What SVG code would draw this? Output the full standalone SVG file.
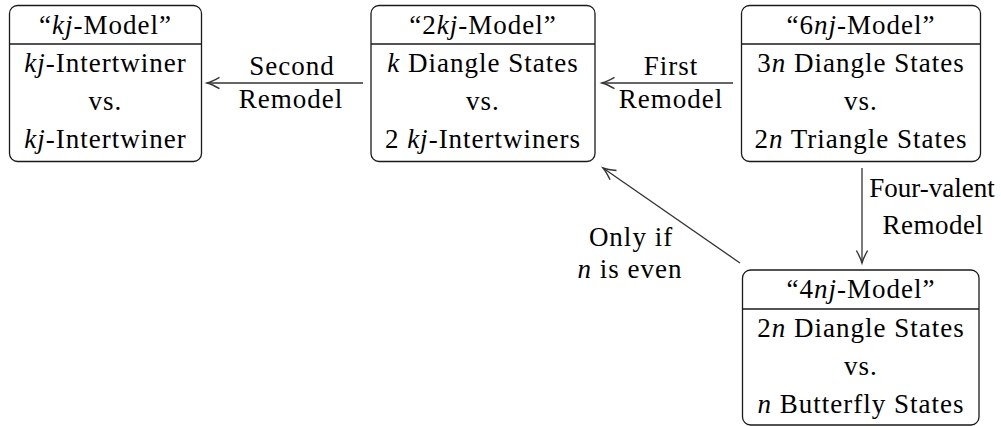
<svg xmlns="http://www.w3.org/2000/svg" width="1001" height="426" viewBox="0 0 1001 426">
<style>
text{font-family:'Liberation Serif',serif;font-size:27px;fill:#000;letter-spacing:1px;text-anchor:middle}
.i{font-style:italic}
.box{fill:#fff;stroke:#1a1a1a;stroke-width:1.3}
.div{stroke:#1a1a1a;stroke-width:1.3}
.edge{stroke:#333;stroke-width:1.3;fill:none;marker-end:url(#ah)}
</style>
<defs>
<marker id="ah" markerUnits="userSpaceOnUse" markerWidth="20" markerHeight="20" refX="0" refY="0" viewBox="-12 -8 14 16" orient="auto">
<path d="M-10,-4.5 Q-4,-1.1 0,0 Q-4,1.1 -10,4.5" fill="none" stroke="#333" stroke-width="1.1"/>
</marker>
</defs>
<g id="connectors">
<line class="edge" x1="363" y1="83" x2="207" y2="83"/>
<line class="edge" x1="733" y1="83" x2="602" y2="83"/>
<line class="edge" x1="862" y1="168" x2="862" y2="263"/>
<line class="edge" x1="740" y1="263" x2="603" y2="168"/>
<text x="292" y="75">Second</text>
<text x="291" y="108">Remodel</text>
<text x="671" y="75">First</text>
<text x="671" y="108">Remodel</text>
<text x="932" y="197" style="letter-spacing:0">Four-valent</text>
<text x="933" y="234" style="letter-spacing:0.5px">Remodel</text>
<text x="631" y="246">Only if</text>
<text x="630" y="278"><tspan class="i">n</tspan> is even</text>
</g>
<g id="kj-model">
<rect class="box" x="9.5" y="5.5" width="192" height="156" rx="8"/>
<line class="div" x1="9.5" y1="44" x2="201.5" y2="44"/>
<text x="105.5" y="34">“<tspan class="i">kj</tspan>-Model”</text>
<text x="105.5" y="72"><tspan class="i">kj</tspan>-Intertwiner</text>
<text x="105.5" y="110">vs.</text>
<text x="105.5" y="148"><tspan class="i">kj</tspan>-Intertwiner</text>
</g>
<g id="2kj-model">
<rect class="box" x="371" y="5.5" width="224" height="156" rx="8"/>
<line class="div" x1="371" y1="44" x2="595" y2="44"/>
<text x="483" y="34">“2<tspan class="i">kj</tspan>-Model”</text>
<text x="483" y="72"><tspan class="i">k</tspan> Diangle States</text>
<text x="483" y="110">vs.</text>
<text x="483" y="148">2 <tspan class="i">kj</tspan>-Intertwiners</text>
</g>
<g id="6nj-model">
<rect class="box" x="741.5" y="5.5" width="239" height="156" rx="8"/>
<line class="div" x1="741.5" y1="44" x2="980.5" y2="44"/>
<text x="861" y="34">“6<tspan class="i">nj</tspan>-Model”</text>
<text x="861" y="72">3<tspan class="i">n</tspan> Diangle States</text>
<text x="861" y="110">vs.</text>
<text x="861" y="148">2<tspan class="i">n</tspan> Triangle States</text>
</g>
<g id="4nj-model">
<rect class="box" x="742.5" y="270" width="236.5" height="155" rx="8"/>
<line class="div" x1="742.5" y1="309" x2="979" y2="309"/>
<text x="861" y="298">“4<tspan class="i">nj</tspan>-Model”</text>
<text x="861" y="337">2<tspan class="i">n</tspan> Diangle States</text>
<text x="861" y="375">vs.</text>
<text x="861" y="413"><tspan class="i">n</tspan> Butterfly States</text>
</g>
</svg>
